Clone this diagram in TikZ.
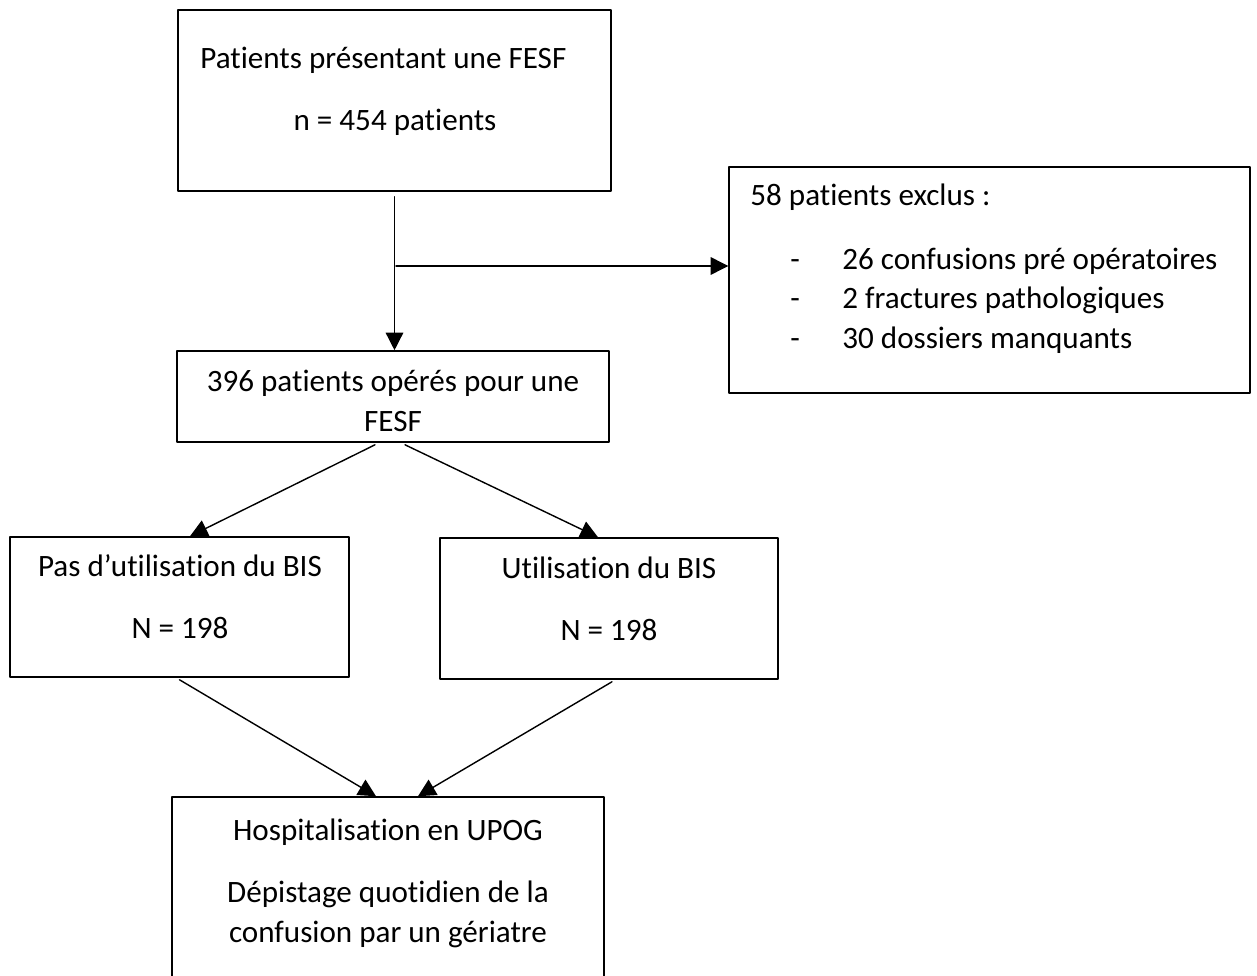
\documentclass[tikz,border=0pt]{standalone}
\usepackage{fontspec}
\setmainfont{Carlito}[Ligatures=NoCommon]
\usetikzlibrary{arrows.meta}
\tikzset{box/.style={draw, line width=0.9pt, inner sep=0pt},
  txt/.style={inner sep=0pt},
  link/.style={->, line width=0.8pt}}

\begin{document}
\begin{tikzpicture}[x=0.02cm, y=-0.02cm, line cap=round, line join=round, >={Triangle[length=10pt,width=10pt]}, font=\fontsize{17.7}{21}\selectfont]
      \useasboundingbox (0,0) rectangle (1257,976);
      \clip (0,0) rectangle (1257,976);
      \node [box, minimum width=8.66cm, minimum height=3.62cm] (top) at (394.5,100.5) {};
      \node [box, minimum width=10.42cm, minimum height=4.52cm] (excl) at (989.5,280) {};
      \node [box, minimum width=8.64cm, minimum height=1.82cm] (oper) at (393,396.5) {};
      \node [box, minimum width=6.78cm, minimum height=2.8cm] (nobis) at (179.5,607) {};
      \node [box, minimum width=6.76cm, minimum height=2.82cm] (bis) at (609,608.5) {};
      \node [box, minimum width=8.64cm, minimum height=4.06cm] (upog) at (388,898.5) {};
      \node [txt, anchor=base west] (topa) at (200,69) {Patients présentant une FESF};
      \node [txt, anchor=base] (topb) at (395,131) {n = 454 patients};
      \node [txt, anchor=base west] (excla) at (750,206) {58 patients exclus :};
      \node [txt, anchor=base] (dasha) at (795,270) {-};
      \node [txt, anchor=base] (dashb) at (795,309) {-};
      \node [txt, anchor=base] (dashc) at (795,349) {-};
      \node [txt, anchor=base west] (exclb) at (842,270) {26 confusions pré opératoires};
      \node [txt, anchor=base west] (exclc) at (842,309) {2 fractures pathologiques};
      \node [txt, anchor=base west] (excld) at (842,349) {30 dossiers manquants};
      \node [txt, anchor=base] (opera) at (393,391) {396 patients opérés pour une};
      \node [txt, anchor=base] (operb) at (393,431) {FESF};
      \node [txt, anchor=base] (nobisa) at (180,576) {Pas d’utilisation du BIS};
      \node [txt, anchor=base] (nobisb) at (180,638) {N = 198};
      \node [txt, anchor=base] (bisa) at (609,578) {Utilisation du BIS};
      \node [txt, anchor=base] (bisb) at (609,640) {N = 198};
      \node [txt, anchor=base] (upoga) at (388,840) {Hospitalisation en UPOG};
      \node [txt, anchor=base] (upogb) at (388,902) {Dépistage quotidien de la};
      \node [txt, anchor=base] (upogc) at (388,942) {confusion par un gériatre};
      \coordinate (split) at (396,266);
      \draw [link] ([yshift=-0.1cm]top.south) -- (top.south |- oper.north);
      \draw [link] (split) -- (split -| excl.west);
      \draw [link] ([xshift=-0.36cm,yshift=-0.04cm]oper.south) -- ([xshift=0.21cm]nobis.north);
      \draw [link] ([xshift=0.24cm,yshift=-0.04cm]oper.south) -- ([xshift=-0.22cm]bis.north);
      \draw [link] ([yshift=-0.04cm]nobis.south) -- ([xshift=-0.24cm]upog.north);
      \draw [link] ([xshift=0.06cm,yshift=-0.04cm]bis.south) -- ([xshift=0.6cm]upog.north);
    \end{tikzpicture}
\end{document}
